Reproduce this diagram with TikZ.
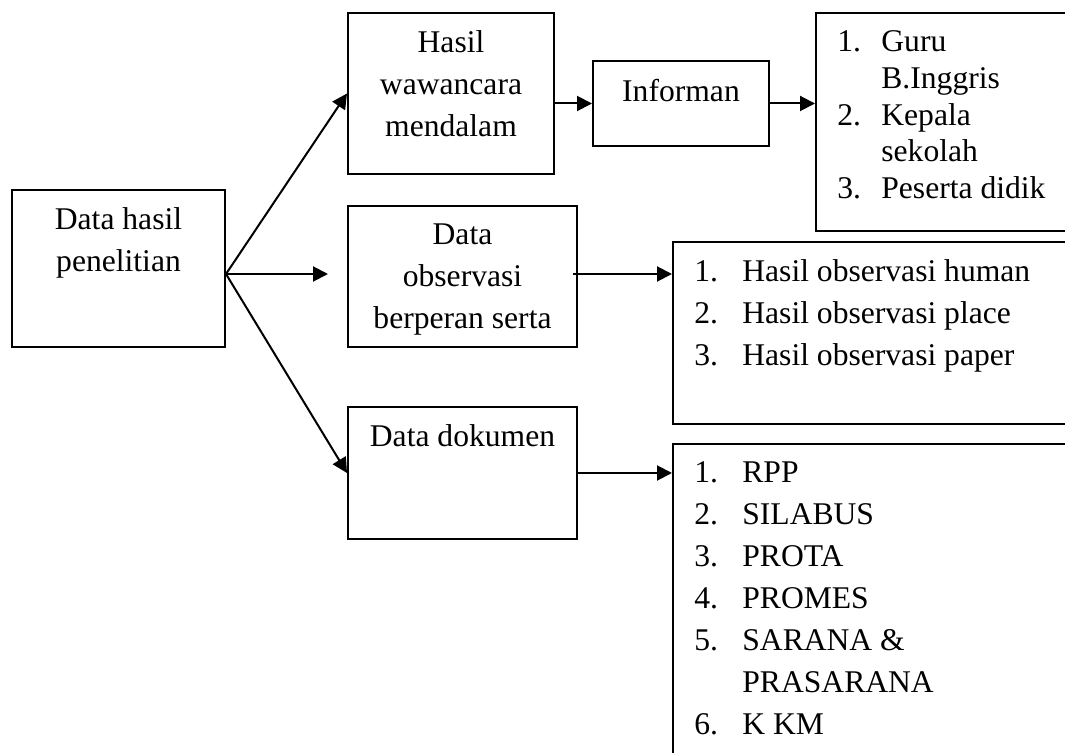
\documentclass[tikz,border=0pt]{standalone}
\usepackage{fontspec}
\setmainfont{Liberation Serif}
\usepackage{tikz}
\usetikzlibrary{arrows.meta}
\newcommand{\nomor}[2][24pt]{\makebox[#1][l]{#2}}

\begin{document}
\begin{tikzpicture}[
  x=0.5pt, y=-0.5pt,
  every node/.style={font=\fontsize{15.8}{21}\selectfont},
  kotak/.style={draw, line width=1pt, anchor=north west, inner sep=0pt},
  isi/.style={inner sep=0pt, align=center, anchor=north, yshift=-9.2pt},
  daftar/.style={inner sep=0pt, align=left, anchor=north west, xshift=11pt, yshift=-9.2pt},
  panah/.style={line width=1pt, -{Triangle[length=7.5pt,width=7.5pt]}},
]
\useasboundingbox (0,0) rectangle (1065,753);
\clip (0,0) rectangle (1065,753);

\node[kotak, minimum width=106.5pt, minimum height=78.5pt,
  label={[isi]north:{Data hasil\\penelitian}}] (data) at (11,189) {};
\node[kotak, minimum width=103pt, minimum height=80.5pt,
  label={[isi]north:{Hasil\\wawancara\\mendalam}}] (hasil) at (347,12) {};
\node[kotak, minimum width=88pt, minimum height=42.5pt,
  label={[isi]north:Informan}] (info) at (592,60) {};
\node[kotak, minimum width=152.5pt, minimum height=109pt,
  label={[daftar, font=\fontsize{15.8}{18.35}\selectfont]north west:{\nomor[22pt]{1.}Guru\\\nomor[22pt]{}B.Inggris\\\nomor[22pt]{2.}Kepala\\\nomor[22pt]{}sekolah\\\nomor[22pt]{3.}Peserta didik}}] (guru) at (815,12) {};
\node[kotak, minimum width=114.5pt, minimum height=70.5pt,
  label={[isi]north:{Data\\observasi\\berperan serta}}] (obs) at (347,205) {};
\node[kotak, minimum width=224pt, minimum height=91pt,
  label={[daftar]north west:{\nomor{1.}Hasil observasi human\\\nomor{2.}Hasil observasi place\\\nomor{3.}Hasil observasi paper}}] (obslist) at (672,241) {};
\node[kotak, minimum width=114.5pt, minimum height=66pt,
  label={[isi]north:Data dokumen}] (dok) at (347,406) {};
\node[kotak, minimum width=224pt, minimum height=178.5pt,
  label={[daftar]north west:{\nomor{1.}RPP\\\nomor{2.}SILABUS\\\nomor{3.}PROTA\\\nomor{4.}PROMES\\\nomor{5.}SARANA \&\\\nomor{}PRASARANA\\\nomor{6.}K KM}}] (doklist) at (672,443) {};

\coordinate (cabang) at ([yshift=-2.75pt]data.east);
\draw[panah] (cabang) -- (hasil.west);
\draw[panah, shorten >=9.5pt] (cabang) -- (cabang -| obs.west);
\draw[panah] (cabang) -- (dok.west);
\draw[panah] (hasil.east |- info.west) -- (info.west);
\coordinate (obskanan) at ([xshift=-2.5pt,yshift=1.25pt]obs.east);
\draw[panah] (obskanan) -- (obskanan -| obslist.west);
\foreach \a/\b in {info/guru, dok/doklist}
  \draw[panah] (\a.east) -- (\a.east -| \b.west);
\end{tikzpicture}
\end{document}
